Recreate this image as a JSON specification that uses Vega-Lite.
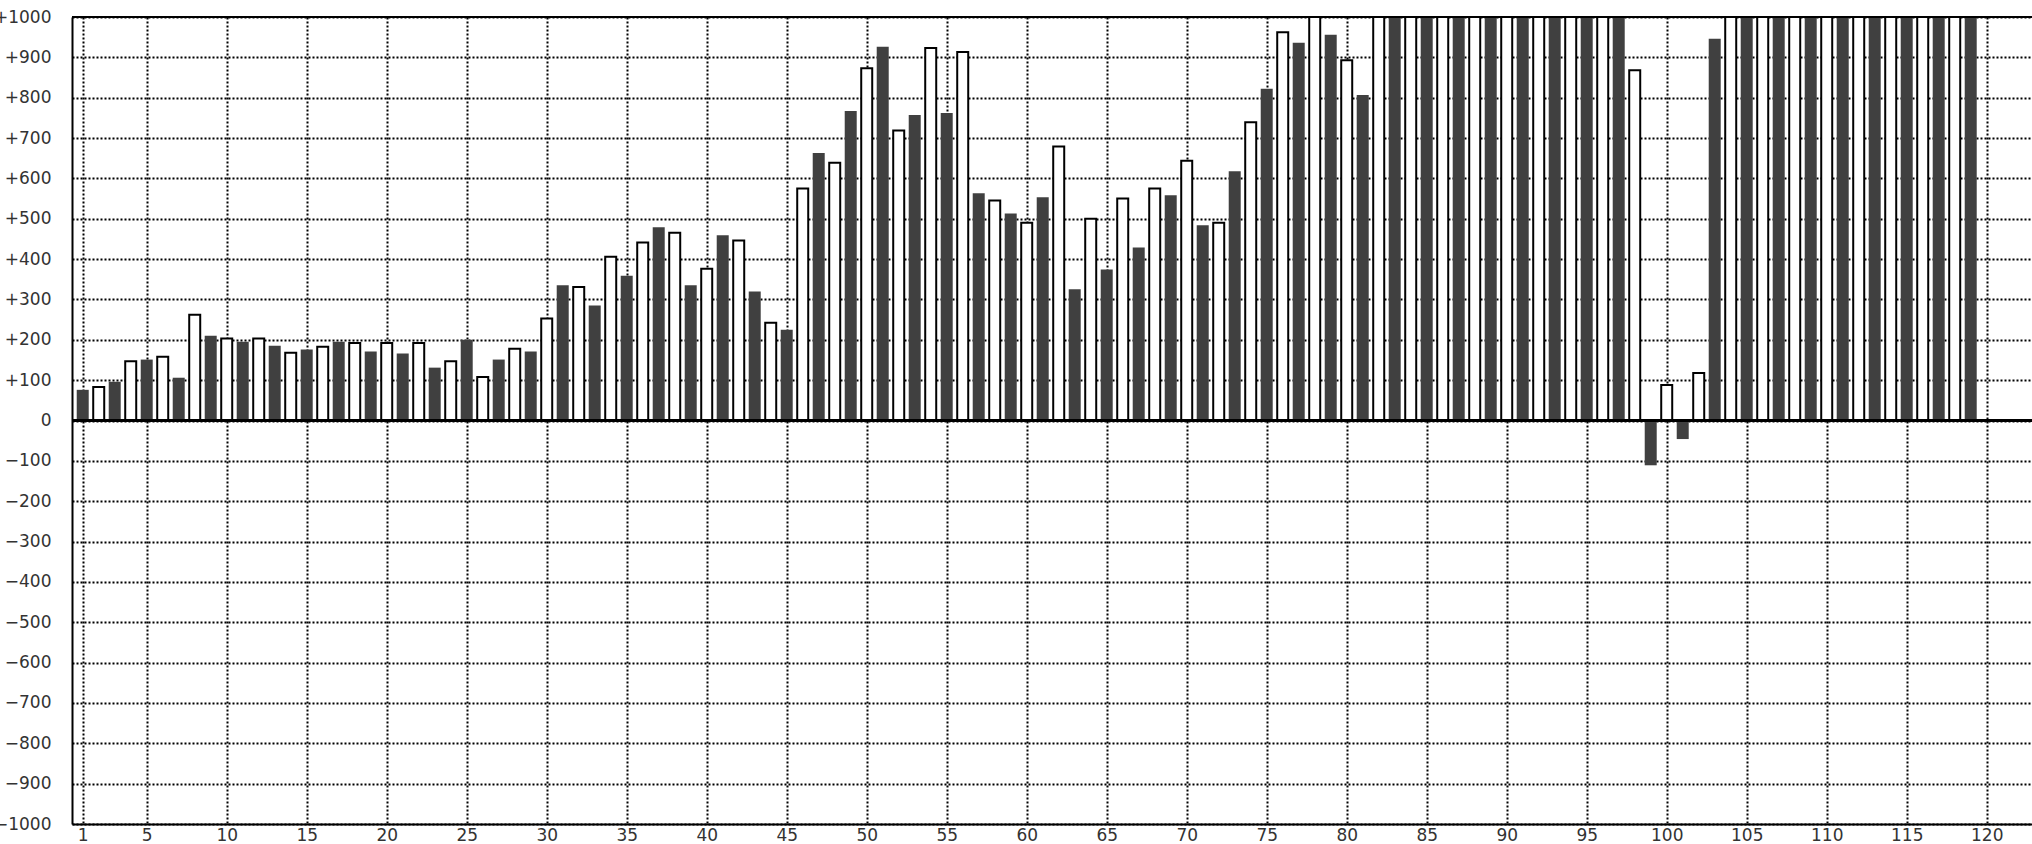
{
  "$schema": "https://vega.github.io/schema/vega-lite/v6.json",
  "width": 1960,
  "height": 807,
  "autosize": {"type": "none"},
  "padding": {"left": 72, "top": 17, "right": 0, "bottom": 20},
  "background": "white",
  "config": {
    "view": {"stroke": null},
    "axis": {
      "labelFont": "DejaVu Sans",
      "labelFontSize": 17,
      "labelColor": "#333333",
      "ticks": false,
      "title": null,
      "domainColor": "black",
      "domainWidth": 2,
      "gridColor": "black",
      "gridOpacity": 1,
      "gridWidth": 2,
      "gridDash": [2, 2]
    }
  },
  "data": {
    "values": [
      {"n": 1, "v": 76, "s": "A"}, {"n": 2, "v": 83, "s": "B"}, {"n": 3, "v": 96, "s": "A"}, {"n": 4, "v": 147, "s": "B"},
      {"n": 5, "v": 151, "s": "A"}, {"n": 6, "v": 158, "s": "B"}, {"n": 7, "v": 106, "s": "A"}, {"n": 8, "v": 262, "s": "B"},
      {"n": 9, "v": 210, "s": "A"}, {"n": 10, "v": 203, "s": "B"}, {"n": 11, "v": 195, "s": "A"}, {"n": 12, "v": 203, "s": "B"},
      {"n": 13, "v": 185, "s": "A"}, {"n": 14, "v": 168, "s": "B"}, {"n": 15, "v": 176, "s": "A"}, {"n": 16, "v": 183, "s": "B"},
      {"n": 17, "v": 195, "s": "A"}, {"n": 18, "v": 192, "s": "B"}, {"n": 19, "v": 171, "s": "A"}, {"n": 20, "v": 192, "s": "B"},
      {"n": 21, "v": 166, "s": "A"}, {"n": 22, "v": 192, "s": "B"}, {"n": 23, "v": 131, "s": "A"}, {"n": 24, "v": 147, "s": "B"},
      {"n": 25, "v": 200, "s": "A"}, {"n": 26, "v": 108, "s": "B"}, {"n": 27, "v": 151, "s": "A"}, {"n": 28, "v": 178, "s": "B"},
      {"n": 29, "v": 171, "s": "A"}, {"n": 30, "v": 253, "s": "B"}, {"n": 31, "v": 335, "s": "A"}, {"n": 32, "v": 331, "s": "B"},
      {"n": 33, "v": 285, "s": "A"}, {"n": 34, "v": 406, "s": "B"}, {"n": 35, "v": 359, "s": "A"}, {"n": 36, "v": 441, "s": "B"},
      {"n": 37, "v": 479, "s": "A"}, {"n": 38, "v": 465, "s": "B"}, {"n": 39, "v": 335, "s": "A"}, {"n": 40, "v": 376, "s": "B"},
      {"n": 41, "v": 459, "s": "A"}, {"n": 42, "v": 446, "s": "B"}, {"n": 43, "v": 320, "s": "A"}, {"n": 44, "v": 242, "s": "B"},
      {"n": 45, "v": 225, "s": "A"}, {"n": 46, "v": 575, "s": "B"}, {"n": 47, "v": 663, "s": "A"}, {"n": 48, "v": 639, "s": "B"},
      {"n": 49, "v": 767, "s": "A"}, {"n": 50, "v": 873, "s": "B"}, {"n": 51, "v": 926, "s": "A"}, {"n": 52, "v": 719, "s": "B"},
      {"n": 53, "v": 757, "s": "A"}, {"n": 54, "v": 923, "s": "B"}, {"n": 55, "v": 762, "s": "A"}, {"n": 56, "v": 913, "s": "B"},
      {"n": 57, "v": 563, "s": "A"}, {"n": 58, "v": 545, "s": "B"}, {"n": 59, "v": 513, "s": "A"}, {"n": 60, "v": 490, "s": "B"},
      {"n": 61, "v": 553, "s": "A"}, {"n": 62, "v": 679, "s": "B"}, {"n": 63, "v": 325, "s": "A"}, {"n": 64, "v": 500, "s": "B"},
      {"n": 65, "v": 374, "s": "A"}, {"n": 66, "v": 550, "s": "B"}, {"n": 67, "v": 429, "s": "A"}, {"n": 68, "v": 575, "s": "B"},
      {"n": 69, "v": 558, "s": "A"}, {"n": 70, "v": 644, "s": "B"}, {"n": 71, "v": 484, "s": "A"}, {"n": 72, "v": 490, "s": "B"},
      {"n": 73, "v": 618, "s": "A"}, {"n": 74, "v": 739, "s": "B"}, {"n": 75, "v": 822, "s": "A"}, {"n": 76, "v": 962, "s": "B"},
      {"n": 77, "v": 936, "s": "A"}, {"n": 78, "v": 1000, "s": "B"}, {"n": 79, "v": 956, "s": "A"}, {"n": 80, "v": 893, "s": "B"},
      {"n": 81, "v": 807, "s": "A"}, {"n": 82, "v": 1000, "s": "B"}, {"n": 83, "v": 1000, "s": "A"}, {"n": 84, "v": 1000, "s": "B"},
      {"n": 85, "v": 1000, "s": "A"}, {"n": 86, "v": 1000, "s": "B"}, {"n": 87, "v": 1000, "s": "A"}, {"n": 88, "v": 1000, "s": "B"},
      {"n": 89, "v": 1000, "s": "A"}, {"n": 90, "v": 1000, "s": "B"}, {"n": 91, "v": 1000, "s": "A"}, {"n": 92, "v": 1000, "s": "B"},
      {"n": 93, "v": 1000, "s": "A"}, {"n": 94, "v": 1000, "s": "B"}, {"n": 95, "v": 1000, "s": "A"}, {"n": 96, "v": 1000, "s": "B"},
      {"n": 97, "v": 1000, "s": "A"}, {"n": 98, "v": 868, "s": "B"}, {"n": 99, "v": -111, "s": "A"}, {"n": 100, "v": 88, "s": "B"},
      {"n": 101, "v": -46, "s": "A"}, {"n": 102, "v": 118, "s": "B"}, {"n": 103, "v": 946, "s": "A"}, {"n": 104, "v": 1000, "s": "B"},
      {"n": 105, "v": 1000, "s": "A"}, {"n": 106, "v": 1000, "s": "B"}, {"n": 107, "v": 1000, "s": "A"}, {"n": 108, "v": 1000, "s": "B"},
      {"n": 109, "v": 1000, "s": "A"}, {"n": 110, "v": 1000, "s": "B"}, {"n": 111, "v": 1000, "s": "A"}, {"n": 112, "v": 1000, "s": "B"},
      {"n": 113, "v": 1000, "s": "A"}, {"n": 114, "v": 1000, "s": "B"}, {"n": 115, "v": 1000, "s": "A"}, {"n": 116, "v": 1000, "s": "B"},
      {"n": 117, "v": 1000, "s": "A"}, {"n": 118, "v": 1000, "s": "B"}, {"n": 119, "v": 1000, "s": "A"}
    ]
  },
  "layer": [
    {
      "transform": [{"filter": "datum.s === 'A'"}],
      "mark": {"type": "bar", "width": 12, "color": "#404040", "clip": true},
      "encoding": {
        "x": {
          "field": "n", "type": "quantitative",
          "scale": {"domain": [0.33, 122.83], "nice": false, "zero": false, "padding": 0},
          "axis": {
            "orient": "bottom",
            "values": [1, 5, 10, 15, 20, 25, 30, 35, 40, 45, 50, 55, 60, 65, 70, 75, 80, 85, 90, 95, 100, 105, 110, 115, 120],
            "labelPadding": 3,
            "grid": true
          }
        },
        "y": {
          "field": "v", "type": "quantitative",
          "scale": {"domain": [-1000, 1000], "nice": false, "padding": 0},
          "axis": {
            "values": [-1000, -900, -800, -700, -600, -500, -400, -300, -200, -100, 0, 100, 200, 300, 400, 500, 600, 700, 800, 900, 1000],
            "labelPadding": 21,
            "grid": true,
            "labelExpr": "datum.value > 0 ? '+' + datum.value : (datum.value < 0 ? '\u2212' + (-datum.value) : '0')"
          }
        }
      }
    },
    {
      "transform": [{"filter": "datum.s === 'B'"}],
      "mark": {"type": "bar", "width": 11, "fill": "white", "stroke": "black", "strokeWidth": 2, "clip": true},
      "encoding": {
        "x": {"field": "n", "type": "quantitative"},
        "y": {"field": "v", "type": "quantitative"}
      }
    },
    {
      "mark": {"type": "rule", "color": "black", "strokeWidth": 2},
      "encoding": {"y": {"datum": 0}}
    },
    {
      "mark": {"type": "rule", "color": "black", "strokeWidth": 2},
      "encoding": {"y": {"datum": 1000}}
    }
  ]
}
